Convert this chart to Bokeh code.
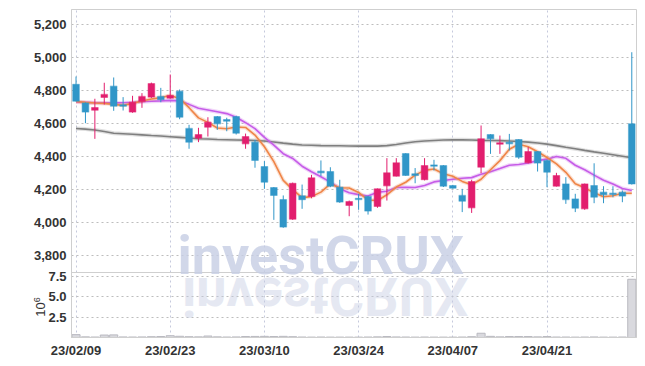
from bokeh.plotting import figure
from bokeh.layouts import column
from bokeh.models import (ColumnDataSource, FixedTicker, CustomJSTickFormatter, Grid,
                          Label, Div, Range1d, LinearAxis, Span, InlineStyleSheet)
from bokeh.embed import file_html
from bokeh.resources import INLINE

# ---------------- data ----------------
dates = ["23/02/09", "23/02/10", "23/02/13", "23/02/14", "23/02/15", "23/02/16", "23/02/17",
         "23/02/20", "23/02/21", "23/02/22", "23/02/23", "23/02/24", "23/02/27", "23/02/28",
         "23/03/02", "23/03/03", "23/03/06", "23/03/07", "23/03/08", "23/03/09", "23/03/10",
         "23/03/13", "23/03/14", "23/03/15", "23/03/16", "23/03/17", "23/03/20", "23/03/21",
         "23/03/22", "23/03/23", "23/03/24", "23/03/27", "23/03/28", "23/03/29", "23/03/30",
         "23/03/31", "23/04/03", "23/04/04", "23/04/05", "23/04/06", "23/04/07", "23/04/10",
         "23/04/11", "23/04/12", "23/04/13", "23/04/14", "23/04/17", "23/04/18", "23/04/19",
         "23/04/20", "23/04/21", "23/04/24", "23/04/25", "23/04/26", "23/04/27", "23/04/28",
         "23/05/02", "23/05/03", "23/05/04", "23/05/08"]

opens = [4838, 4725, 4681, 4758, 4826, 4713, 4669, 4733, 4760, 4764,
         4753, 4796, 4570, 4511, 4578, 4642, 4624, 4642, 4477, 4487,
         4339, 4212, 4139, 4020, 4162, 4158, 4311, 4309, 4214, 4103,
         4147, 4158, 4097, 4222, 4281, 4418, 4295, 4259, 4349, 4345,
         4224, 4164, 4089, 4335, 4533, 4475, 4487, 4503, 4362, 4430,
         4376, 4220, 4234, 4143, 4083, 4224, 4184, 4178, 4184, 4598]
highs = [4885, 4728, 4750, 4847, 4879, 4760, 4768, 4784, 4848, 4816,
         4897, 4806, 4592, 4574, 4638, 4645, 4635, 4647, 4539, 4501,
         4372, 4215, 4164, 4242, 4230, 4289, 4376, 4335, 4259, 4133,
         4174, 4162, 4206, 4390, 4390, 4420, 4330, 4390, 4380, 4348,
         4228, 4204, 4259, 4588, 4535, 4527, 4537, 4505, 4457, 4432,
         4380, 4301, 4275, 4174, 4236, 4359, 4220, 4220, 4194, 5032]
lows = [4733, 4602, 4507, 4715, 4677, 4679, 4665, 4695, 4755, 4729,
        4750, 4626, 4447, 4487, 4521, 4562, 4553, 4533, 4447, 4332,
        4204, 4016, 3968, 4016, 4083, 4147, 4281, 4214, 4119, 4038,
        4077, 4048, 4089, 4133, 4279, 4283, 4238, 4255, 4315, 4215,
        4205, 4063, 4058, 4299, 4416, 4416, 4436, 4386, 4358, 4309,
        4214, 4218, 4113, 4063, 4077, 4117, 4117, 4153, 4123, 4230]
closes = [4735, 4669, 4697, 4776, 4705, 4705, 4729, 4764, 4842, 4744,
          4770, 4638, 4487, 4533, 4608, 4598, 4614, 4541, 4521, 4376,
          4244, 4164, 3972, 4238, 4138, 4271, 4301, 4220, 4124, 4127,
          4139, 4069, 4204, 4301, 4362, 4285, 4285, 4345, 4341, 4220,
          4208, 4129, 4248, 4507, 4507, 4483, 4477, 4396, 4430, 4360,
          4305, 4285, 4139, 4087, 4234, 4153, 4168, 4170, 4160, 4234]
volumes = [350000, 80000, 60000, 300000, 320000, 70000, 60000, 70000, 100000, 120000,
           220000, 150000, 100000, 80000, 180000, 80000, 60000, 70000, 120000, 130000,
           140000, 120000, 140000, 100000, 60000, 50000, 60000, 50000, 50000, 50000,
           50000, 60000, 80000, 120000, 70000, 60000, 50000, 60000, 50000, 50000,
           50000, 60000, 100000, 520000, 140000, 80000, 120000, 120000, 120000, 80000,
           120000, 60000, 60000, 50000, 60000, 70000, 50000, 50000, 60000, 7100000]
ma5 = [4733, 4728, 4724, 4722, 4716, 4710, 4722, 4736, 4749, 4757,
       4770, 4752, 4696, 4634, 4607, 4573, 4568, 4579, 4576, 4530,
       4459, 4369, 4255, 4199, 4151, 4157, 4184, 4234, 4211, 4209,
       4182, 4136, 4133, 4168, 4215, 4244, 4287, 4316, 4324, 4295,
       4280, 4249, 4229, 4262, 4320, 4375, 4444, 4474, 4459, 4429,
       4394, 4355, 4304, 4235, 4210, 4180, 4156, 4162, 4177, 4177]
ma10 = [4730, 4728, 4726, 4725, 4725, 4726, 4728, 4732, 4735, 4737,
        4740, 4737, 4716, 4692, 4682, 4671, 4660, 4638, 4605, 4569,
        4516, 4469, 4417, 4388, 4341, 4308, 4277, 4245, 4205, 4180,
        4169, 4160, 4183, 4189, 4212, 4213, 4212, 4224, 4246, 4255,
        4262, 4268, 4272, 4293, 4308, 4327, 4347, 4352, 4361, 4375,
        4384, 4400, 4389, 4347, 4320, 4287, 4256, 4233, 4206, 4194]
ma_long = [4570, 4566, 4561, 4552, 4541, 4538, 4535, 4531, 4527, 4524,
           4520, 4516, 4512, 4508, 4506, 4503, 4502, 4500, 4499, 4497,
           4494, 4488, 4481, 4475, 4470, 4468, 4466, 4465, 4465, 4464,
           4463, 4463, 4463, 4466, 4473, 4482, 4489, 4494, 4497, 4500,
           4501, 4501, 4500, 4498, 4497, 4496, 4494, 4491, 4487, 4482,
           4475, 4466, 4456, 4447, 4437, 4428, 4420, 4411, 4402, 4392]
tick_index = [0, 10, 20, 30, 40, 50]
price_ticks = [3800, 4000, 4200, 4400, 4600, 4800, 5000, 5200]
volume_ticks = [2500000, 5000000, 7500000]
volume_tick_labels = ["2.5", "5.0", "7.5"]

# ---------------- layout constants ----------------
UP = "#e21e6e"
DOWN = "#3096c8"
FONT = "Liberation Sans"
PRICE_LO, PRICE_HI = 3697, 5291      # visible price band (upper panel)
Y_LO = 3303                          # extends the price scale down over the volume panel
VOL_TOP = 40000000                   # volume scale spans the whole frame height
SEP = PRICE_LO                       # panel separator

idx = list(range(len(dates)))
colors = [UP if c >= o else DOWN for o, c in zip(opens, closes)]
src = ColumnDataSource(dict(
    x=idx, open=opens, high=highs, low=lows, close=closes,
    top=[max(o, c) for o, c in zip(opens, closes)],
    bottom=[min(o, c) for o, c in zip(opens, closes)],
    color=colors, vol=volumes, ma5=ma5, ma10=ma10, ma_long=ma_long))

p = figure(width=640, height=362, output_backend="svg", toolbar_location=None,
           x_range=Range1d(-0.48, 59.5), y_range=Range1d(Y_LO, PRICE_HI),
           y_axis_location=None, min_border_left=71, min_border_right=4,
           min_border_top=9, min_border_bottom=25)
p.extra_y_ranges = {"vol": Range1d(0, VOL_TOP)}
p.outline_line_color = "#cfcfcf"

# grids
p.ygrid.visible = False
p.add_layout(Grid(dimension=1, ticker=FixedTicker(ticks=price_ticks),
                  grid_line_color="#bdbdbd", grid_line_dash="2 3"))
p.add_layout(Grid(dimension=1, y_range_name="vol", ticker=FixedTicker(ticks=volume_ticks),
                  grid_line_color="#bdbdbd", grid_line_dash="2 3"))
p.xgrid.ticker = FixedTicker(ticks=tick_index)
p.xgrid.grid_line_color = "#c5c9dc"
p.xgrid.grid_line_dash = "2 3"

p.add_layout(Span(location=SEP, dimension="width", line_color="#cfcfcf", line_width=1))

# left axis: price ticks + volume ticks mapped onto the same scale
vol_pos = [Y_LO + t / VOL_TOP * (PRICE_HI - Y_LO) for t in volume_ticks]
yax = LinearAxis(ticker=FixedTicker(ticks=price_ticks + vol_pos),
                 formatter=CustomJSTickFormatter(
                     args=dict(vp=vol_pos, vl=volume_tick_labels),
                     code="""
const i = vp.findIndex(v => Math.abs(v - tick) < 1e-6);
if (i >= 0) return vl[i];
return Math.round(tick).toLocaleString('en-US');
"""))
p.add_layout(yax, "left")

for a in (yax, p.xaxis[0]):
    a.major_tick_out = 0
    a.major_tick_in = 0
    a.minor_tick_out = 0
    a.minor_tick_in = 0
    a.major_label_standoff = 5
    a.axis_line_color = "#cfcfcf"
    a.major_label_text_font = FONT
    a.major_label_text_font_size = "13px"
    a.major_label_text_font_style = "bold"
    a.major_label_text_color = "#333333"
xax = p.xaxis[0]
xax.ticker = FixedTicker(ticks=tick_index)
xax.major_label_overrides = {i: dates[i] for i in tick_index}

wm = Label(x=106, y=82, x_units="screen", y_units="screen", text="investCRUX",
           text_font="Roboto", text_font_style="bold", text_font_size="54px",
           text_color="#c6cde3", text_alpha=0.8, text_baseline="alphabetic")
p.add_layout(wm)

# volume bars
p.vbar(x="x", width=0.86, top="vol", bottom=0, source=src, y_range_name="vol",
       fill_color="#d9d9de", line_color="#b9b9c0", line_width=1)

# moving averages with soft glow
for col, c in (("ma_long", "#7f7f7f"), ("ma10", "#c65ce8"), ("ma5", "#ef8548")):
    p.line("x", col, source=src, line_color=c, line_width=4, line_alpha=0.25)
    p.line("x", col, source=src, line_color=c, line_width=1.6)

# candles
p.segment(x0="x", y0="high", x1="x", y1="low", source=src, line_color="color", line_width=1)
p.vbar(x="x", width=0.7, top="top", bottom="bottom", source=src,
       fill_color="color", line_color="color", line_alpha=0.45, line_width=1.2)

mirror = Div(text="investCRUX", width=300, height=54, stylesheets=[InlineStyleSheet(css="""
:host { position: absolute !important; left: 177px !important; top: 264px !important;
        transform: scaleY(-1); color: #c6cde3; opacity: 0.45; pointer-events: none;
        white-space: nowrap; overflow: visible; }
:host, :host * { font-family: 'Roboto' !important; font-weight: 700 !important;
        font-size: 54px !important; line-height: 54px !important;
        letter-spacing: 0 !important; }
""")])

exponent = Div(text="10<sup style='font-size:9px'>6</sup>", width=28, height=16,
               stylesheets=[InlineStyleSheet(css="""
:host { position: absolute !important; left: 18px !important; top: 294px !important;
        transform: rotate(-90deg); font-family: 'Liberation Sans'; font-size: 13px;
        line-height: 16px; color: #333333; text-align: center; white-space: nowrap;
        overflow: visible; }
""")])

layout = column(p, mirror, exponent, spacing=0)
open("out.html", "w").write(file_html(layout, INLINE))
